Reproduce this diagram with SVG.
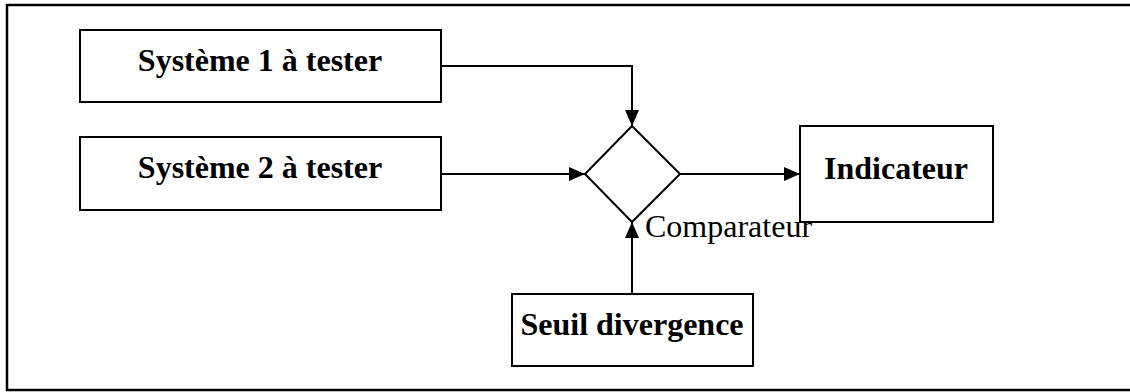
<svg xmlns="http://www.w3.org/2000/svg" width="1130" height="392" viewBox="0 0 1130 392">
<defs>
<style>
.box{fill:#fff;stroke:#000;stroke-width:2}
.lbl{font-family:"Liberation Serif","Times New Roman",serif;font-weight:bold;font-size:32px;text-anchor:middle;fill:#000}
.plain{font-family:"Liberation Serif","Times New Roman",serif;font-size:32px;fill:#000}
.conn{fill:none;stroke:#000;stroke-width:2}
</style>
<marker id="arr" viewBox="0 0 16 14" refX="16" refY="7" markerWidth="16" markerHeight="14" markerUnits="userSpaceOnUse" orient="auto">
<path d="M0,0 L16,7 L0,14 Z" fill="#000"/>
</marker>
</defs>
<rect x="0" y="0" width="1130" height="392" fill="#fff"/>
<rect id="frame" x="7" y="5" width="1135" height="385" fill="none" stroke="#000" stroke-width="2.5"/>
<g id="connectors">
<polyline class="conn" points="441,66 632,66 632,126" marker-end="url(#arr)"/>
<line class="conn" x1="441" y1="174" x2="585" y2="174" marker-end="url(#arr)"/>
<line class="conn" x1="680" y1="174" x2="800" y2="174" marker-end="url(#arr)"/>
<line class="conn" x1="632" y1="294" x2="632" y2="222" marker-end="url(#arr)"/>
</g>
<g id="sys1">
<rect class="box" x="80" y="30" width="361" height="72"/>
<text class="lbl" x="260" y="71">Système 1 à tester</text>
</g>
<g id="sys2">
<rect class="box" x="80" y="137" width="361" height="73"/>
<text class="lbl" x="260" y="178">Système 2 à tester</text>
</g>
<g id="comparateur">
<polygon class="box" points="632,126 680,174 632,222 585,174"/>
<text class="plain" x="645" y="237">Comparateur</text>
</g>
<g id="indicateur">
<rect class="box" x="800" y="126" width="193" height="96"/>
<text class="lbl" x="896" y="179">Indicateur</text>
</g>
<g id="seuil">
<rect class="box" x="512" y="294" width="241" height="72"/>
<text class="lbl" x="632" y="335">Seuil divergence</text>
</g>
</svg>
